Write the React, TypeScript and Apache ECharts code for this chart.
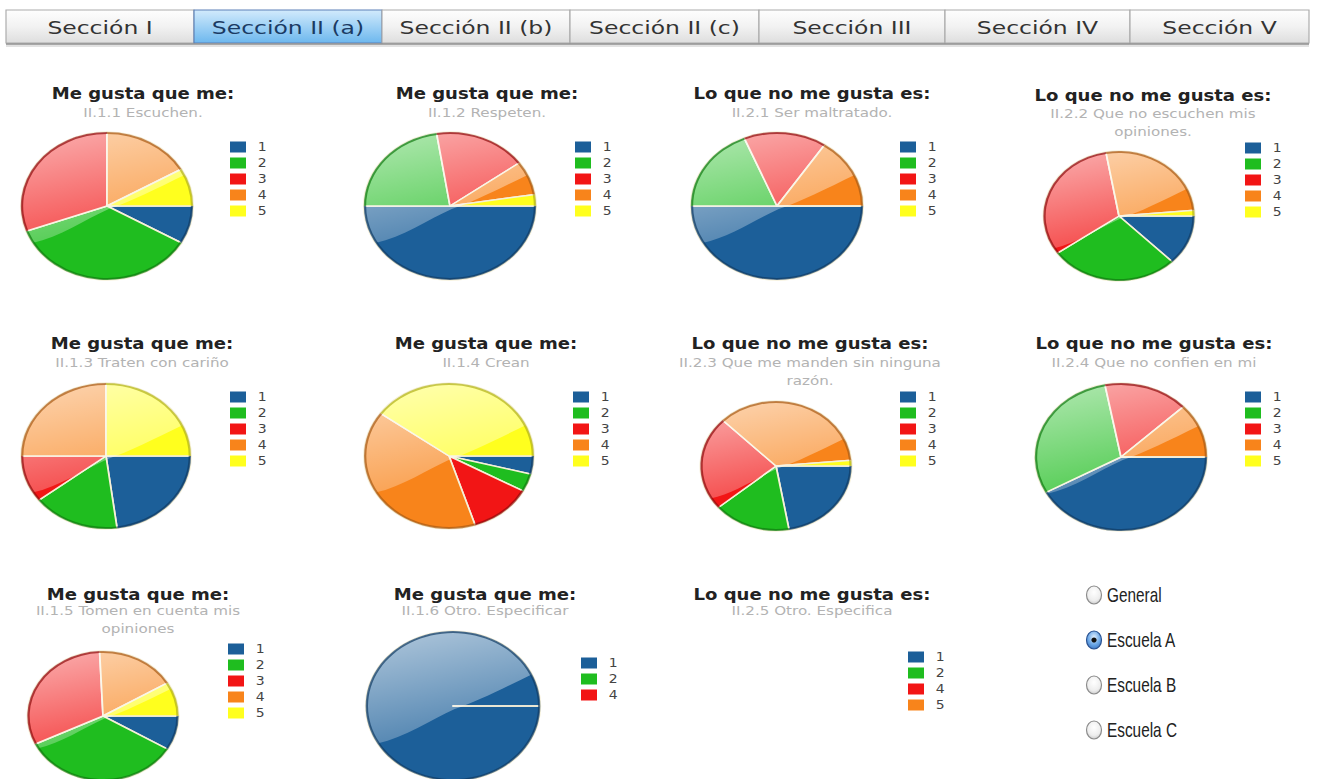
import React, { useEffect, useRef } from 'react';
import * as echarts from 'echarts';

// ---------------- data ----------------
const CATS = ['1', '2', '3', '4', '5'];
const CATS_OTRO = ['1', '2', '4'];
const CATS_OTRA = ['1', '2', '4', '5'];

const TITLE_LIKE = 'Me gusta que me:';
const TITLE_DISLIKE = 'Lo que no me gusta es:';

const escuchen = [3, 13, 11, 6, 3];
const respeten = [20, 9, 7, 3, 1];
const maltratado = [16, 6, 5, 5, 0];
const noEscuchen = [9, 20, 23, 19, 1];
const carino = [11, 8, 5, 12, 12];
const crean = [1, 1, 3, 10, 10];
const manden = [16, 12, 17, 26, 1];
const noConfien = [21, 15, 8, 6, 0];
const tomenEnCuenta = [3, 12, 11, 6, 3];
const otroEspecificar = [14, 0, 0];
const otroEspecifica = [0, 0, 0, 0];

const TABS = ['Sección I', 'Sección II (a)', 'Sección II (b)', 'Sección II (c)', 'Sección III', 'Sección IV', 'Sección V'];
const SELECTED_TAB = 1;
const RADIOS = ['General', 'Escuela A', 'Escuela B', 'Escuela C'];
const SELECTED_RADIO = 1;

// ---------------- styles / layout ----------------
const BLUE = '#1c5f99';
const GREEN = '#1fbd1f';
const RED = '#f21515';
const ORANGE = '#f8841b';
const YELLOW = '#ffff1e';
const RIM: Record<string, string> = {
  [BLUE]: '#0f3a63',
  [GREEN]: '#0f7a0f',
  [RED]: '#8e0c0c',
  [ORANGE]: '#a85a12',
  [YELLOW]: '#b0b018',
};
const PAL5 = [BLUE, GREEN, RED, ORANGE, YELLOW];
const PAL3 = [BLUE, GREEN, RED];
const PAL4 = [BLUE, GREEN, RED, ORANGE];

const PAGE_W = 1317;
const PAGE_H = 779;
const CHART_W = 1131;
const S = PAGE_W / CHART_W;
const X = (px: number) => px / S;

const panels = [
  { title: TITLE_LIKE, sub: 'II.1.1 Escuchen.', cats: CATS, values: escuchen, pal: PAL5 },
  { title: TITLE_LIKE, sub: 'II.1.2 Respeten.', cats: CATS, values: respeten, pal: PAL5 },
  { title: TITLE_DISLIKE, sub: 'II.2.1 Ser maltratado.', cats: CATS, values: maltratado, pal: PAL5 },
  { title: TITLE_DISLIKE, sub: 'II.2.2 Que no escuchen mis\nopiniones.', cats: CATS, values: noEscuchen, pal: PAL5 },
  { title: TITLE_LIKE, sub: 'II.1.3 Traten con cariño', cats: CATS, values: carino, pal: PAL5 },
  { title: TITLE_LIKE, sub: 'II.1.4 Crean', cats: CATS, values: crean, pal: PAL5 },
  { title: TITLE_DISLIKE, sub: 'II.2.3 Que me manden sin ninguna\nrazón.', cats: CATS, values: manden, pal: PAL5 },
  { title: TITLE_DISLIKE, sub: 'II.2.4 Que no confien en mi', cats: CATS, values: noConfien, pal: PAL5 },
  { title: TITLE_LIKE, sub: 'II.1.5 Tomen en cuenta mis\nopiniones', cats: CATS, values: tomenEnCuenta, pal: PAL5 },
  { title: TITLE_LIKE, sub: 'II.1.6 Otro. Especificar', cats: CATS_OTRO, values: otroEspecificar, pal: PAL3 },
  { title: TITLE_DISLIKE, sub: 'II.2.5 Otro. Especifica', cats: CATS_OTRA, values: otroEspecifica, pal: PAL4 },
];

// cx, cy, r: pie; tx, ty: title centre x / top; gap: title-subtitle gap; lx, ly: legend
const LAYOUT = [
  { cx: 107, cy: 206, r: 74, tx: 143, ty: 84, gap: 1, lx: 230, ly: 141 },
  { cx: 450, cy: 206, r: 74, tx: 487, ty: 84, gap: 1, lx: 575, ly: 141 },
  { cx: 777, cy: 206, r: 74, tx: 812, ty: 84, gap: 1, lx: 900, ly: 141 },
  { cx: 1119, cy: 216, r: 65, tx: 1153, ty: 86, gap: 0, lx: 1245, ly: 142 },
  { cx: 106, cy: 456, r: 73, tx: 142, ty: 334, gap: 1, lx: 230, ly: 391 },
  { cx: 449, cy: 456, r: 73, tx: 486, ty: 334, gap: 1, lx: 573, ly: 391 },
  { cx: 776, cy: 466, r: 65, tx: 810, ty: 334, gap: 1, lx: 900, ly: 391 },
  { cx: 1121, cy: 457, r: 74, tx: 1154, ty: 334, gap: 1, lx: 1245, ly: 391 },
  { cx: 103, cy: 716, r: 65, tx: 138, ty: 585, gap: -2, lx: 228, ly: 643 },
  { cx: 453, cy: 706, r: 75, tx: 485, ty: 585, gap: -2, lx: 581, ly: 657 },
  { cx: 0, cy: 0, r: 0, tx: 812, ty: 585, gap: -2, lx: 908, ly: 651 },
];

const TAB_EDGES = [6, 194, 382, 570, 759, 945, 1130, 1309];
const RADIO_X = 1094;
const RADIO_Y = [595, 640, 685, 730];

const SHINE_D = 'M -86.6 50 A 100 100 0 1 1 90.6 -42.3 C 58 -24 26 -5 2 4 C -25 18 -55 42 -86.6 50 Z';
echarts.graphic.registerShape('pieShine', echarts.graphic.extendPath(SHINE_D, {}));

function buildOption() {
  const series: any[] = [];
  const titles: any[] = [];
  const legends: any[] = [];
  const graphics: any[] = [];

  panels.forEach((p, i) => {
    const L = LAYOUT[i];
    const total = p.values.reduce((a, b) => a + b, 0);
    const mainData = p.cats.map((n, k) => ({ name: n, value: p.values[k], itemStyle: { color: p.pal[k] } }));
    const rimData = p.cats.map((n, k) => ({ name: n, value: p.values[k], itemStyle: { color: RIM[p.pal[k]] } }));

    titles.push({
      text: p.title,
      subtext: p.sub,
      left: X(L.tx),
      top: L.ty,
      textAlign: 'center',
      padding: 0,
      itemGap: L.gap,
      textStyle: { fontSize: 15.5, fontWeight: 'bold', fontFamily: 'DejaVu Sans', color: '#222', lineHeight: 18 },
      subtextStyle: { fontSize: 13, fontFamily: 'DejaVu Sans', color: '#b3b3b3', lineHeight: 18 },
    });

    legends.push({
      orient: 'vertical',
      left: X(L.lx),
      top: L.ly,
      padding: 0,
      itemWidth: 16 / S,
      itemHeight: 11,
      itemGap: 4,
      icon: 'rect',
      selectedMode: false,
      itemStyle: { borderWidth: 0 },
      textStyle: { fontSize: 12, fontFamily: 'DejaVu Sans', color: '#444', lineHeight: 12, padding: [0, 0, 0, 5] },
      data: p.cats.map((n, k) => ({ name: n, itemStyle: { color: p.pal[k], borderWidth: 0, borderColor: 'transparent' } })),
    });

    series.push({
      type: 'pie',
      name: p.sub,
      center: [X(L.cx), L.cy],
      radius: L.r,
      startAngle: 0,
      clockwise: true,
      silent: true,
      stillShowZeroSum: false,
      avoidLabelOverlap: false,
      label: { show: false },
      labelLine: { show: false },
      emphasis: { disabled: true },
      itemStyle: { borderColor: '#f6f0d8', borderWidth: 1.5 },
      z: 2,
      data: mainData,
    });

    if (total > 0) {
      series.push({
        type: 'pie',
        name: p.sub + ' rim',
        center: [X(L.cx), L.cy],
        radius: [L.r - 2, L.r],
        startAngle: 0,
        clockwise: true,
        silent: true,
        stillShowZeroSum: false,
        label: { show: false },
        labelLine: { show: false },
        emphasis: { disabled: true },
        itemStyle: { borderWidth: 0, opacity: 0.7 },
        z: 10,
        data: rimData,
      });
      graphics.push({
        type: 'pieShine',
        x: X(L.cx),
        y: L.cy,
        scaleX: L.r / 100,
        scaleY: L.r / 100,
        silent: true,
        z: 3,
        style: {
          fill: {
            type: 'linear', x: 0, y: 0, x2: 0.3, y2: 1,
            colorStops: [
              { offset: 0, color: 'rgba(255,255,255,0.66)' },
              { offset: 1, color: 'rgba(255,255,255,0.24)' },
            ],
          },
        },
      });
    }
  });

  // tabs
  TABS.forEach((t, i) => {
    const x0 = X(TAB_EDGES[i]);
    const x1 = X(TAB_EDGES[i + 1]);
    const sel = i === SELECTED_TAB;
    graphics.push({
      type: 'rect',
      silent: true,
      z: 5,
      shape: { x: x0, y: 10, width: x1 - x0, height: 33 },
      style: {
        fill: {
          type: 'linear', x: 0, y: 0, x2: 0, y2: 1,
          colorStops: sel
            ? [{ offset: 0, color: '#d2eafc' }, { offset: 0.5, color: '#9fd1f5' }, { offset: 1, color: '#6db8ee' }]
            : [{ offset: 0, color: '#fefefe' }, { offset: 0.5, color: '#f2f2f2' }, { offset: 1, color: '#dedede' }],
        },
        stroke: sel ? '#5c80b8' : '#ababab',
        lineWidth: 1,
      },
    });
    graphics.push({
      type: 'text',
      silent: true,
      z: 6,
      x: (x0 + x1) / 2,
      y: 28,
      scaleX: 1.12,
      style: {
        text: t,
        fontSize: 18,
        fontFamily: 'DejaVu Sans',
        fill: sel ? '#1b3b64' : '#333',
        align: 'center',
        verticalAlign: 'middle',
      },
    });
  });
  graphics.push({
    type: 'line',
    silent: true,
    z: 6,
    shape: { x1: X(TAB_EDGES[0]), y1: 44, x2: X(TAB_EDGES[TAB_EDGES.length - 1]), y2: 44 },
    style: { stroke: '#8a8a8a', lineWidth: 1.5 },
  });
  graphics.push({
    type: 'line',
    silent: true,
    z: 6,
    shape: { x1: X(TAB_EDGES[0]), y1: 46, x2: X(TAB_EDGES[TAB_EDGES.length - 1]), y2: 46 },
    style: { stroke: '#d8d8d8', lineWidth: 1.5 },
  });

  // radios
  RADIOS.forEach((r, i) => {
    const cy = RADIO_Y[i];
    const sel = i === SELECTED_RADIO;
    graphics.push({
      type: 'ellipse',
      silent: true,
      z: 5,
      shape: { cx: X(RADIO_X), cy, rx: 7.5 / S, ry: 9 },
      style: {
        fill: {
          type: 'radial', x: 0.5, y: 0.35, r: 0.75,
          colorStops: sel
            ? [{ offset: 0, color: '#e3f1ff' }, { offset: 0.55, color: '#6aa6e6' }, { offset: 1, color: '#2d68b8' }]
            : [{ offset: 0, color: '#ffffff' }, { offset: 0.6, color: '#eeeeee' }, { offset: 1, color: '#bdbdbd' }],
        },
        stroke: sel ? '#2c5391' : '#8c8c8c',
        lineWidth: 1,
      },
    });
    if (sel) {
      graphics.push({
        type: 'ellipse',
        silent: true,
        z: 6,
        shape: { cx: X(RADIO_X), cy, rx: 2.6 / S, ry: 2.6 },
        style: { fill: '#111' },
      });
    }
    graphics.push({
      type: 'text',
      silent: true,
      z: 6,
      x: X(1107),
      y: cy,
      scaleX: 0.66,
      style: {
        text: r,
        fontSize: 20,
        fontFamily: 'Liberation Sans',
        fill: '#222',
        align: 'left',
        verticalAlign: 'middle',
      },
    });
  });

  return {
    animation: false,
    backgroundColor: '#ffffff',
    title: titles,
    legend: legends,
    tooltip: { show: false },
    series,
    graphic: graphics,
  };
}

export default function App() {
  const ref = useRef<HTMLDivElement>(null);
  useEffect(() => {
    if (!ref.current) return;
    const chart = echarts.init(ref.current, null, { renderer: 'svg' });
    chart.setOption(buildOption() as any);
    return () => chart.dispose();
  }, []);
  return (
    <div style={{ position: 'absolute', left: 0, top: 0, width: PAGE_W, height: PAGE_H, overflow: 'hidden', background: '#fff' }}>
      <div
        ref={ref}
        style={{ width: CHART_W, height: PAGE_H, transform: `scaleX(${S})`, transformOrigin: '0 0' }}
      />
    </div>
  );
}
